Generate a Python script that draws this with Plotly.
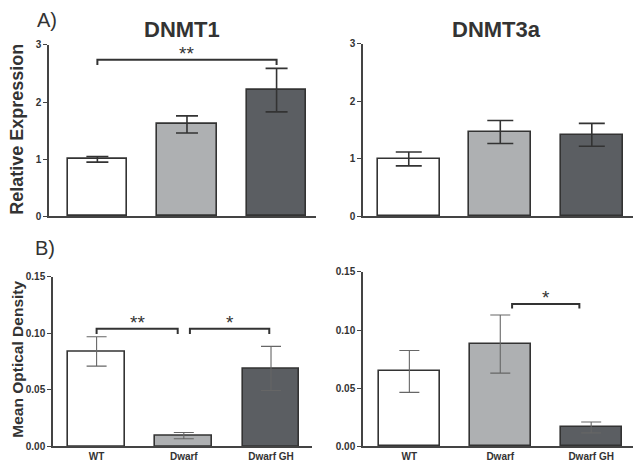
import plotly.graph_objects as go

groups = ["WT", "Dwarf", "Dwarf GH"]
bar_colors = ["#ffffff", "#aeb0b2", "#5b5e62"]

dnmt1_mean = [1.0, 1.61, 2.21]
dnmt1_err = [0.05, 0.15, 0.38]
dnmt3a_mean = [1.0, 1.47, 1.42]
dnmt3a_err = [0.12, 0.20, 0.20]
od1_mean = [0.084, 0.0095, 0.069]
od1_err = [0.013, 0.0028, 0.0195]
od2_mean = [0.0645, 0.088, 0.0163]
od2_err = [0.018, 0.025, 0.0047]

# brackets: (start, end, level, label)
br_dnmt1 = [(0.0, 2.0, 2.74, "**")]
br_od1 = [(0.0, 0.93, 0.104, "**"), (1.07, 1.98, 0.104, "*")]
br_od2 = [(1.13, 1.87, 0.1225, "*")]

W, H = 640, 467
def xd(a, b):
    return [a / W, b / W]
def yd(top, bot):
    return [1 - bot / H, 1 - top / H]

panels = [
    dict(ax="", mean=dnmt1_mean, err=dnmt1_err, xr=[-0.54, 2.44], yr=[0, 3], dt=1,
         xdom=xd(49, 316), ydom=yd(40, 216), width=0.66, ecol="#333333", ew=1.6,
         br=br_dnmt1, drop=0.09, fmt=".0f", showx=False, capw=11),
    dict(ax="2", mean=dnmt3a_mean, err=dnmt3a_err, xr=[-0.50, 2.45], yr=[0, 3], dt=1,
         xdom=xd(363, 633), ydom=yd(39, 216), width=0.68, ecol="#333333", ew=1.6,
         br=[], drop=0.09, fmt=".0f", showx=False, capw=13),
    dict(ax="3", mean=od1_mean, err=od1_err, xr=[-0.5, 2.47], yr=[0, 0.15], dt=0.05,
         xdom=xd(53, 312), ydom=yd(278, 452), width=0.65, ecol="#666666", ew=1.1,
         br=br_od1, drop=0.0045, fmt=".2f", showx=True, capw=10),
    dict(ax="4", mean=od2_mean, err=od2_err, xr=[-0.51, 2.46], yr=[0, 0.15], dt=0.05,
         xdom=xd(363, 633), ydom=yd(273, 452), width=0.67, ecol="#666666", ew=1.1,
         br=br_od2, drop=0.0038, fmt=".2f", showx=True, capw=10),
]

fig = go.Figure()
layout = {}
shapes = []
annotations = []

for p in panels:
    xa = "x" + p["ax"]
    ya = "y" + p["ax"]
    fig.add_trace(go.Bar(
        x=list(range(len(groups))), y=p["mean"], width=p["width"],
        marker=dict(color=bar_colors, line=dict(color="#333333", width=1.6)),
        error_y=dict(type="data", array=p["err"], visible=True, color=p["ecol"],
                     thickness=p["ew"], width=p["capw"]),
        xaxis=xa, yaxis=ya, showlegend=False, hoverinfo="y"))
    layout["xaxis" + p["ax"]] = dict(
        domain=p["xdom"], range=p["xr"], anchor=ya, showgrid=False, zeroline=False,
        showline=True, linecolor="#444444", linewidth=1.5,
        tickmode="array", tickvals=list(range(len(groups))),
        ticktext=groups if p["showx"] else ["", "", ""],
        ticks="", ticklen=0,
        tickfont=dict(family="Liberation Sans", size=10, color="#333333", weight="bold"))
    layout["yaxis" + p["ax"]] = dict(
        domain=p["ydom"], range=p["yr"], anchor=xa, showgrid=False, zeroline=False,
        showline=True, linecolor="#444444", linewidth=1.5, ticks="outside", ticklen=4,
        tickcolor="#444444", tickwidth=1.2, dtick=p["dt"], tickformat=p["fmt"],
        tickfont=dict(family="Liberation Sans", size=10, color="#333333", weight="bold"))
    for (x0, x1, lvl, lab) in p["br"]:
        shapes.append(dict(type="path", xref=xa, yref=ya,
                           path=f"M {x0},{lvl - p['drop']} L {x0},{lvl} L {x1},{lvl} L {x1},{lvl - p['drop']}",
                           line=dict(color="#333333", width=2)))
        annotations.append(dict(x=(x0 + x1) / 2, y=lvl, xref=xa, yref=ya, text=lab,
                                showarrow=False, xanchor="center", yanchor="bottom", yshift=-6,
                                font=dict(family="Liberation Sans", size=19, color="#333333")))

def lab(x, y, text, size, angle=0):
    return dict(x=x / W, y=1 - y / H, xref="paper", yref="paper", text=text,
                showarrow=False, xanchor="center", yanchor="middle", textangle=angle,
                font=dict(family="Liberation Sans", size=size, color="#333333"))

annotations += [
    lab(182, 24, "<b>DNMT1</b>", 22),
    lab(496, 24, "<b>DNMT3a</b>", 22),
    lab(47, 14, "A)", 20),
    lab(45, 248, "B)", 20),
    lab(17, 127, "<b>Relative Expression</b>", 18, -90),
    lab(18, 363, "<b>Mean Optical Density</b>", 15.5, -90),
]

fig.update_layout(**layout)
fig.update_layout(width=W, height=H, margin=dict(l=0, r=0, t=0, b=0),
                  paper_bgcolor="white", plot_bgcolor="white",
                  shapes=shapes, annotations=annotations, bargap=0)
fig.write_html("out.html", config={"displayModeBar": False},
               post_script="document.body.style.margin='0';document.body.style.overflow='hidden';")
